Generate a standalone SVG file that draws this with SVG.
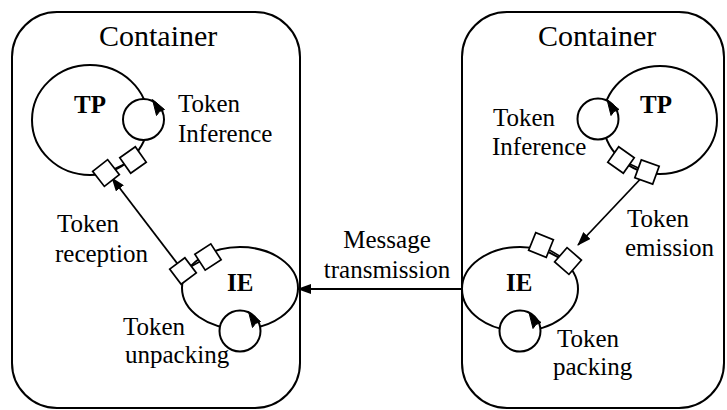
<svg xmlns="http://www.w3.org/2000/svg" xmlns:xlink="http://www.w3.org/1999/xlink" width="727" height="410" viewBox="0 0 727 410">
  <style>
    .box { fill: #fff; stroke: #000; stroke-width: 2; }
    .ell { fill: #fff; stroke: #000; stroke-width: 2; }
    .port { fill: #fff; stroke: #000; stroke-width: 1.7; }
    .wire { fill: none; stroke: #000; stroke-width: 1.8; }
    .link { fill: none; stroke: #000; stroke-width: 1.6; }
    text { font-family: "Liberation Serif", "Times New Roman", serif; fill: #000; }
    .title { font-size: 30px; }
    .lbl { font-size: 25px; }
    .name { font-size: 25px; font-weight: bold; }
  </style>
  <defs>
    <marker id="arrow" viewBox="0 0 14 10" refX="13" refY="5" markerWidth="14" markerHeight="10" markerUnits="userSpaceOnUse" orient="auto">
      <path d="M0,0 L14,5 L0,10 Z" fill="#000"/>
    </marker>
    <path id="loophead" d="M0,0 L4,16 L7,12 L12,10 Z" fill="#000" stroke="#000" stroke-width="1" stroke-linejoin="miter"/>
    <rect id="sq" x="-9.5" y="-9.5" width="19" height="19"/>
  </defs>

  <g id="container-left">
    <rect class="box" x="12" y="12" width="288" height="396" rx="45" ry="45"/>
    <text class="title" x="99" y="46">Container</text>
  </g>
  <g id="container-right">
    <rect class="box" x="462" y="12" width="262" height="396" rx="45" ry="45"/>
    <text class="title" x="538" y="46">Container</text>
  </g>

  <g id="connectors">
    <line class="wire" x1="183" y1="271" x2="112" y2="178" marker-end="url(#arrow)"/>
    <line class="wire" x1="647" y1="172" x2="578" y2="245" marker-end="url(#arrow)"/>
    <line class="wire" x1="462" y1="289" x2="298" y2="289" marker-end="url(#arrow)"/>
  </g>

  <g id="tp-left">
    <ellipse class="ell" cx="90" cy="120" rx="58" ry="55"/>
    <circle class="ell" cx="143.5" cy="119.5" r="20.5"/>
    <use xlink:href="#loophead" href="#loophead" x="152.5" y="99.5"/>
    <line class="link" x1="106" y1="173" x2="133" y2="160"/>
    <use xlink:href="#sq" href="#sq" class="port" transform="translate(106,173) rotate(52)"/>
    <use xlink:href="#sq" href="#sq" class="port" transform="translate(133,160) rotate(55)"/>
    <text class="name" x="74" y="113">TP</text>
    <text class="lbl" x="178" y="112">Token</text>
    <text class="lbl" x="178" y="142">Inference</text>
  </g>

  <g id="ie-left">
    <ellipse class="ell" cx="240" cy="288" rx="58" ry="41"/>
    <circle class="ell" cx="240" cy="331" r="20.5"/>
    <use xlink:href="#loophead" href="#loophead" x="248.5" y="311.5"/>
    <line class="link" x1="183" y1="271" x2="208" y2="257"/>
    <use xlink:href="#sq" href="#sq" class="port" transform="translate(183,271) rotate(53)"/>
    <use xlink:href="#sq" href="#sq" class="port" transform="translate(208,257) rotate(57)"/>
    <text class="name" x="227" y="291">IE</text>
    <text class="lbl" x="57" y="232">Token</text>
    <text class="lbl" x="55" y="262">reception</text>
    <text class="lbl" x="123" y="335">Token</text>
    <text class="lbl" x="125" y="363">unpacking</text>
  </g>

  <g id="message-label">
    <text class="lbl" x="387" y="248" text-anchor="middle">Message</text>
    <text class="lbl" x="387" y="278" text-anchor="middle">transmission</text>
  </g>

  <g id="tp-right">
    <ellipse class="ell" cx="660" cy="120" rx="57" ry="54"/>
    <circle class="ell" cx="598" cy="119" r="20.5"/>
    <use xlink:href="#loophead" href="#loophead" x="607" y="99.5"/>
    <line class="link" x1="621" y1="160" x2="647" y2="172"/>
    <use xlink:href="#sq" href="#sq" class="port" transform="translate(621,160) rotate(35)"/>
    <use xlink:href="#sq" href="#sq" class="port" transform="translate(647,172) rotate(20)"/>
    <text class="name" x="640" y="113">TP</text>
    <text class="lbl" x="493" y="126">Token</text>
    <text class="lbl" x="492" y="155">Inference</text>
  </g>

  <g id="ie-right">
    <ellipse class="ell" cx="520" cy="289" rx="58" ry="42"/>
    <circle class="ell" cx="520" cy="331" r="20.5"/>
    <use xlink:href="#loophead" href="#loophead" x="529" y="312.5"/>
    <line class="link" x1="541" y1="245" x2="568" y2="261"/>
    <use xlink:href="#sq" href="#sq" class="port" transform="translate(541,245) rotate(22)"/>
    <use xlink:href="#sq" href="#sq" class="port" transform="translate(568,261) rotate(41)"/>
    <text class="name" x="506" y="291">IE</text>
    <text class="lbl" x="627" y="227">Token</text>
    <text class="lbl" x="625" y="256">emission</text>
    <text class="lbl" x="557" y="347">Token</text>
    <text class="lbl" x="553" y="375">packing</text>
  </g>
</svg>
